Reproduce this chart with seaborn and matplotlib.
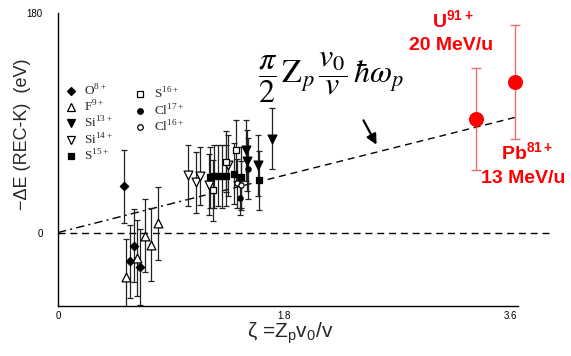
import numpy as np
import pandas as pd
import matplotlib
matplotlib.use("Agg")
import matplotlib.pyplot as plt
from matplotlib.lines import Line2D
import seaborn as sns

sns.set_theme(style="white")
plt.rcParams['font.family'] = ['Liberation Sans', 'DejaVu Sans']

# ---------------- data ----------------
o8_x = [0.523, 0.574, 0.603, 0.650]
o8_y = [38.0, -23.6, -10.7, -28.5]
o8_e = [30, 30, 30, 31]

f9_x = [0.539, 0.632, 0.690, 0.737, 0.796]
f9_y = [-36.2, -20.8, -2.5, -10.0, 7.6]
f9_e = [31, 31, 30, 30, 30]

si13_x = [1.496, 1.504, 1.594, 1.699]
si13_y = [67.4, 59.0, 55.0, 77.0]
si13_e = [25, 25, 25, 25]

si14_x = [1.033, 1.100, 1.126, 1.200, 1.356]
si14_y = [46.8, 41.3, 46.3, 39.2, 55.0]
si14_e = [25, 25, 24, 25, 25]

s15_x = [1.213, 1.245, 1.277, 1.306, 1.338, 1.404, 1.457, 1.602]
s15_y = [45.4, 46.0, 46.5, 46.0, 46.5, 48.2, 45.5, 42.7]
s15_e = [25, 26, 25, 26, 25, 25, 25, 24]

s16_x = [1.232, 1.338, 1.417]
s16_y = [34.5, 58.0, 67.4]
s16_e = [25, 25, 25]

cl17_x = [1.451, 1.509]
cl17_y = [28.5, 52.3]
cl17_e = [14, 25]

cl16_x = [1.425, 1.457]
cl16_y = [40.5, 38.6]
cl16_e = [20, 20]

heavy_x = [3.323, 3.636]
heavy_y = [93.0, 123.4]
heavy_e = [41.5, 47.0]

theory_x = [0.0, 1.03, 3.66]
theory_y = [0.0, 27.0, 95.0]

ions = ['O$^{\\mathregular{8+}}$', 'F$^{\\mathregular{9+}}$', 'Si$^{\\mathregular{13+}}$',
        'Si$^{\\mathregular{14+}}$', 'S$^{\\mathregular{15+}}$', 'S$^{\\mathregular{16+}}$',
        'Cl$^{\\mathregular{17+}}$', 'Cl$^{\\mathregular{16+}}$']

xticks = [0, 0.9, 1.8, 2.7, 3.6]
xticklabels = ['0', '', '1.8', '', '3.6']
yticks = [0, 90, 180]
yticklabels = ['0', '', '180']

# ---------------- figure ----------------
W, H = 571, 356
fig = plt.figure(figsize=(W / 100, H / 100), dpi=100)
ax = fig.add_axes([58 / W, 1 - 305.7 / H, 460 / W, 292.7 / H])
ax.set_xlim(0, 3.66)
ax.set_ylim(-60, 180)

series = [
    (o8_x, o8_y, o8_e, 'D', 'black', 18),
    (f9_x, f9_y, f9_e, '^', 'white', 40),
    (si13_x, si13_y, si13_e, 'v', 'black', 40),
    (si14_x, si14_y, si14_e, 'v', 'white', 40),
    (s15_x, s15_y, s15_e, 's', 'black', 24),
    (s16_x, s16_y, s16_e, 's', 'white', 20),
    (cl17_x, cl17_y, cl17_e, 'o', 'black', 14),
    (cl16_x, cl16_y, cl16_e, 'o', 'white', 14),
]

rows = []
for name, (xs, ys, es, m, fc, s) in zip(ions, series):
    for x, y, e in zip(xs, ys, es):
        rows.append(dict(ion=name, x=x, y=y, err=e))
df = pd.DataFrame(rows)

# theory line and zero line
ax.plot(theory_x[:2], theory_y[:2], color='black', lw=1, ls=(0, (6, 3, 1.5, 3)), zorder=1)
ax.plot(theory_x[1:], theory_y[1:], color='black', lw=1, ls=(0, (5, 3.5)), zorder=1)
ax.plot([0, 3.94], [0, 0], color='black', lw=1, ls=(0, (5, 3.5)), clip_on=False, zorder=1)

for name, (xs, ys, es, m, fc, s) in zip(ions, series):
    sub = df[df.ion == name]
    ax.errorbar(sub.x, sub.y, yerr=sub.err, fmt='none', ecolor='#222222',
                elinewidth=0.9, capsize=2.2, capthick=0.9, zorder=2)
    sns.scatterplot(data=sub, x='x', y='y', marker=m, s=s, color=fc,
                    edgecolor='black', linewidth=0.9, ax=ax, zorder=3, legend=False)

# heavy ions (red)
ax.errorbar(heavy_x, heavy_y, yerr=heavy_e, fmt='none', ecolor='#F07070',
            elinewidth=1.0, capsize=3.5, capthick=1.0, zorder=2, clip_on=False)
sns.scatterplot(x=heavy_x, y=heavy_y, marker='o', s=100, color='#FF0000',
                edgecolor='#FF0000', ax=ax, zorder=4, legend=False, clip_on=False)

# arrow
ax.annotate('', xy=(2.545, 70), xytext=(2.42, 94),
            arrowprops=dict(arrowstyle='-|>', color='black', lw=1.6,
                            mutation_scale=15), annotation_clip=False)

# axes styling
sns.despine(ax=ax)
for sp in ['left', 'bottom']:
    ax.spines[sp].set_color('black')
    ax.spines[sp].set_linewidth(1.0)
ax.set_xticks(xticks)
ax.set_xticklabels(xticklabels)
ax.set_yticks(yticks)
ax.set_yticklabels(yticklabels)
ax.tick_params(axis='x', direction='in', length=5, width=1, pad=4, labelsize=7, colors='black')
ax.tick_params(axis='y', direction='out', length=5, width=1, pad=6, labelsize=7, colors='black')
ax.set_xlabel('')
ax.set_ylabel('')

fig.text(23 / W, 1 - 134 / H, '\u2212\u0394E (REC-K)  (eV)', rotation=90,
         ha='center', va='center', fontsize=13)
fig.text(290 / W, 1 - 333 / H, '\u03b6 =Z$_\\mathregular{p}$v$_\\mathregular{0}$/v',
         ha='center', va='center', fontsize=15)

# formula
fig.text(331 / W, 1 - 78 / H,
         r'$\dfrac{\pi}{2}\,\mathrm{Z}_p\,\dfrac{v_0}{v}\,\hbar\omega_p$',
         ha='center', va='center', fontsize=23, math_fontfamily='stix', color='black')

# red labels
red = '#FF0000'
fig.text(453 / W, 1 - 21 / H, 'U$^{\\mathregular{91+}}$', ha='center', va='center',
         fontsize=14, fontweight='bold', color=red)
fig.text(451 / W, 1 - 45 / H, '20 MeV/u', ha='center', va='center',
         fontsize=14, fontweight='bold', color=red)
fig.text(527 / W, 1 - 153 / H, 'Pb$^{\\mathregular{81+}}$', ha='center', va='center',
         fontsize=14, fontweight='bold', color=red)
fig.text(523 / W, 1 - 179 / H, '13 MeV/u', ha='center', va='center',
         fontsize=14, fontweight='bold', color=red)

# legends
def handle(m, fc, ms):
    return Line2D([], [], ls='none', marker=m, markerfacecolor=fc,
                  markeredgecolor='black', markeredgewidth=0.9, markersize=ms)

ms_map = {'D': 4.5, '^': 6, 'v': 6, 's': 5, 'o': 4}
hands = [handle(m, fc, ms_map[m]) for (_, _, _, m, fc, _) in series]
lp = dict(family=['Liberation Serif', 'DejaVu Serif'], size=9.5)
leg1 = ax.legend(hands[:5], ions[:5], loc='upper left', frameon=False,
                 bbox_to_anchor=(64 / W, 1 - 83 / H), bbox_transform=fig.transFigure,
                 prop=lp, labelspacing=0.08, handletextpad=0.5, handlelength=1.0,
                 borderpad=0, borderaxespad=0)
ax.add_artist(leg1)
leg2 = ax.legend(hands[5:], ions[5:], loc='upper left', frameon=False,
                 bbox_to_anchor=(133 / W, 1 - 86 / H), bbox_transform=fig.transFigure,
                 prop=lp, labelspacing=0.12, handletextpad=0.6, handlelength=1.0,
                 borderpad=0, borderaxespad=0)

fig.savefig('out.png', dpi=100)
